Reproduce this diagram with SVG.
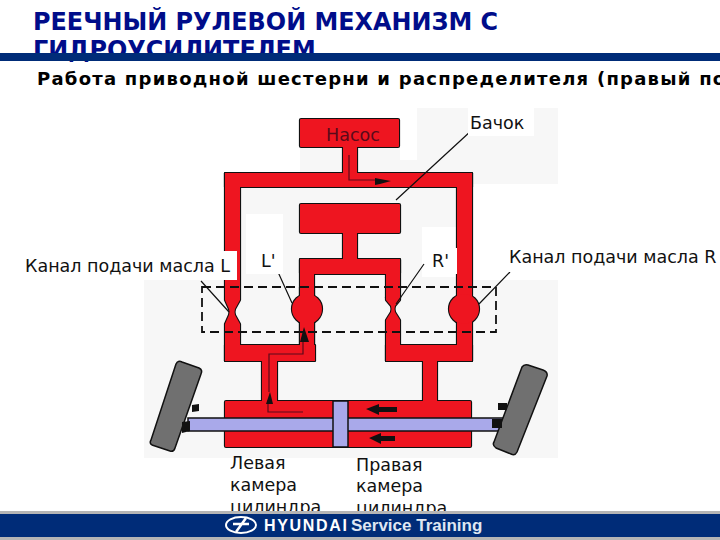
<svg xmlns="http://www.w3.org/2000/svg" width="720" height="540" viewBox="0 0 720 540">
<defs>
<g id="net">
<rect x="300" y="119" width="99" height="28" rx="1"/>
<rect x="343" y="147" width="14" height="30"/>
<rect x="225" y="173" width="247" height="14"/>
<rect x="225" y="173" width="15" height="124"/>
<path d="M225 297H240V300L235 309Q234 312 235 315L240 324V361H225V324L229 315Q230 312 229 309L225 300Z"/>
<rect x="225" y="345" width="90" height="16"/>
<rect x="262" y="361" width="15" height="42"/>
<rect x="225" y="401" width="246" height="46" rx="1"/>
<rect x="300" y="204" width="100" height="29" rx="1"/>
<rect x="343" y="233" width="14" height="26"/>
<rect x="300" y="259" width="100" height="15" rx="1"/>
<rect x="300" y="259" width="14" height="86"/>
<circle cx="307" cy="309" r="15"/>
<path d="M300 287V296L293 309L300 322V345H314V322L321 309L314 296V287Z"/>
<rect x="386" y="259" width="14" height="39"/>
<path d="M386 297H400V300L395 306Q394 309 395 312L400 320V361H386V320L391 312Q392 309 391 306L386 300Z"/>
<rect x="386" y="345" width="86" height="16"/>
<rect x="457" y="173" width="15" height="188"/>
<circle cx="464" cy="309" r="15"/>
<rect x="423" y="361" width="14" height="42"/>
</g>
</defs>
<style>
.bg{fill:#f7f7f7}
.w{fill:#fff}
.p{fill:#a9a9ea;stroke:#111;stroke-width:1.5}
.wh{fill:#707070;stroke:#111;stroke-width:1.5;stroke-linejoin:round}
.k{fill:#111}
.t{font-family:"DejaVu Sans",sans-serif;font-size:17.5px;fill:#111}
.l{fill:none;stroke:#111;stroke-width:1.2}
.f{fill:none;stroke:#5a0a1a;stroke-width:1.2}
.d{fill:none;stroke:#111;stroke-width:1.8;stroke-dasharray:9 5}
</style>
<rect width="720" height="540" fill="#fff"/>
<g id="background">
<rect class="bg" x="240" y="108" width="318" height="172"/>
<rect class="bg" x="144" y="280" width="414" height="178"/>
<rect class="w" x="240" y="108" width="60" height="64"/>
<rect class="w" x="300" y="108" width="117" height="11"/>
<rect class="w" x="400" y="119" width="17" height="41"/>
<rect class="w" x="473" y="184" width="85" height="96"/>
<rect class="w" x="246" y="214" width="37" height="60"/>
<rect class="w" x="422" y="227" width="36" height="50"/>
</g>
<g id="hydraulics">
<use href="#net" fill="#111" stroke="#111" stroke-width="2.2" stroke-linejoin="round"/>
<use href="#net" fill="#ee1520"/>
</g>
<g id="connectors">
<path class="f" d="M349 155V180H376"/>
<path class="k" d="M375 178L380 179L391 181L380 184L375 185Z"/>
<path class="f" d="M303 412H268V400"/>
<path class="k" d="M270 392L273 404H266Z"/>
<path class="f" d="M269 392V354H303V340"/>
<path class="k" d="M304 327L309 342H300Z"/>
<rect class="d" x="202" y="287" width="294" height="45"/>
<path class="l" d="M396 200L472 130M229 312L201 281M292 303L278 272M396 304L424 264M479 304L510 272"/>
</g>
<g id="cylinder">
<rect class="p" x="188" y="418" width="315" height="13"/>
<rect class="p" x="333" y="401" width="15" height="46"/>
<path class="k" d="M366 409L379 404V407H397V412H379V415ZM369 438L381 433V436H395V441H381V444Z"/>
</g>
<g id="left-wheel">
<path class="wh" d="M176 364Q178 360 182 362L199 368Q203 370 201 374L175 448Q174 452 170 451L152 445Q149 443 151 440Z"/>
<path class="k" d="M192 405L199 404V411L192 412ZM182 422L190 421V431L182 433Z"/>
</g>
<g id="right-wheel">
<path class="wh" d="M522 367Q524 364 528 365L543 370Q548 372 547 376L517 452Q515 456 511 454L496 448Q492 445 494 442Z"/>
<path class="k" d="M498 403H507V410H498ZM492 419H502V428H492Z"/>
</g>
<g id="pump"><text x="326" y="141" class="t" style="fill:#5a0a1a">Насос</text></g>
<g id="tank-label"><rect class="w" x="468" y="108" width="66" height="28"/><text x="470" y="129" class="t">Бачок</text></g>
<g id="label-l"><rect class="w" x="24" y="251" width="213" height="29"/><text x="25" y="272" class="t">Канал подачи масла L</text></g>
<g id="label-lp"><rect class="w" x="253" y="248" width="30" height="26"/><text x="261" y="267" class="t">L'</text></g>
<g id="label-rp"><rect class="w" x="428" y="248" width="29" height="26"/><text x="432" y="267" class="t">R'</text></g>
<g id="label-r"><rect class="w" x="502" y="246" width="218" height="26"/><text x="509" y="263" class="t">Канал подачи масла R</text></g>
<g id="label-left-chamber">
<text x="230" y="469" class="t">Левая</text>
<text x="230" y="491" class="t">камера</text>
<text x="230" y="513" class="t">цилиндра</text>
</g>
<g id="label-right-chamber">
<text x="356" y="471" class="t">Правая</text>
<text x="356" y="492" class="t">камера</text>
<text x="356" y="514" class="t">цилиндра</text>
</g>
<g id="header">
<text x="33" y="30" font-family="'DejaVu Sans',sans-serif" font-weight="700" font-size="23.9" fill="#000d8a">РЕЕЧНЫЙ РУЛЕВОЙ МЕХАНИЗМ С</text>
<text x="33" y="58" font-family="'DejaVu Sans',sans-serif" font-weight="700" font-size="23.9" fill="#000d8a">ГИДРОУСИЛИТЕЛЕМ</text>
<rect x="0" y="53" width="720" height="8" fill="#002c78"/>
<text x="37" y="85" font-family="'DejaVu Sans',sans-serif" font-weight="700" font-size="18" letter-spacing="1.25" fill="#000">Работа приводной шестерни и распределителя (правый по</text>
</g>
<g id="footer">
<rect x="0" y="511" width="720" height="29" fill="#b5b5b5"/>
<rect x="0" y="514" width="720" height="23" fill="#002c78"/>
<ellipse cx="241" cy="525" rx="15" ry="8" fill="none" stroke="#fff" stroke-width="2"/>
<path d="M236 532L246 518M233 524H249" stroke="#fff" stroke-width="2.5"/>
<text x="264" y="531" font-family="'Liberation Sans',sans-serif" font-weight="700" font-size="16" fill="#fff" textLength="83">HYUNDAI</text>
<text x="351" y="531" font-family="'Liberation Sans',sans-serif" font-weight="700" font-size="17" fill="#dfe6f2">Service Training</text>
</g>
</svg>
